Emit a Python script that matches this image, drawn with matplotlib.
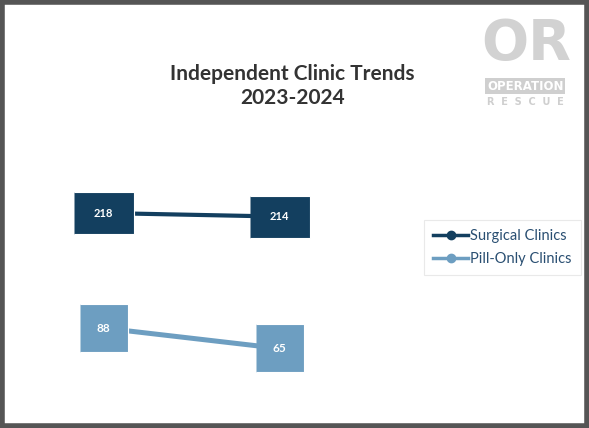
import matplotlib
matplotlib.use("Agg")
import matplotlib.pyplot as plt
from matplotlib.lines import Line2D
from matplotlib.patches import Rectangle

# data
years = ["2023", "2024"]
surgical = [218, 214]
pill_only = [88, 65]
series_names = ["Surgical Clinics", "Pill-Only Clinics"]

dark = "#133f5f"
light = "#6d9ec1"

fig = plt.figure(figsize=(5.89, 4.28), dpi=100)
fig.patch.set_facecolor("white")

ax = fig.add_axes([0, 0, 1, 1])
ax.set_xlim(-0.59, 2.76)
ax.set_ylim(-24.9, 458.7)
ax.axis("off")

x = list(range(len(years)))

# rectangle markers
rect_dark = [(-1, -0.71), (1, -0.71), (1, 0.71), (-1, 0.71)]
rect_light = [(-1, -1), (1, -1), (1, 1), (-1, 1)]

ax.plot(x, surgical, color=dark, lw=3.0, marker=rect_dark, ms=43,
        mfc=dark, mec="white", mew=0.8, zorder=2)
ax.plot(x, pill_only, color=light, lw=3.6, marker=rect_light, ms=35,
        mfc=light, mec="white", mew=0.8, zorder=2)

for xi, v in zip(x, surgical):
    ax.text(xi, v, str(v), color="white", fontsize=8, fontweight="bold",
            family="Lato", ha="center", va="center", zorder=3)
for xi, v in zip(x, pill_only):
    ax.text(xi, v, str(v), color="white", fontsize=8.5, fontweight="bold",
            family="Lato", ha="center", va="center", zorder=3)

# title
fig.text(0.497, 0.80, "Independent Clinic Trends\n2023-2024", ha="center",
         va="center", fontsize=15, fontweight="bold", family="Lato",
         color="#333333", linespacing=1.25)

# legend
handles = [Line2D([0], [0], color=dark, lw=2.5, marker="o", ms=6),
           Line2D([0], [0], color=light, lw=2.5, marker="o", ms=6)]
leg = fig.legend(handles, series_names, loc="center",
                 bbox_to_anchor=(0.853, 0.422), frameon=True,
                 prop={"family": "Lato", "size": 10.5}, handlelength=2.4,
                 handletextpad=0.15, labelspacing=0.65, borderpad=0.6,
                 borderaxespad=0, fancybox=False)
leg.get_frame().set_edgecolor("#e4e4e4")
leg.get_frame().set_linewidth(0.8)
for t in leg.get_texts():
    t.set_color("#2a4f72")

# logo
fig.text(0.894, 0.898, "OR", ha="center", va="center", fontsize=40,
         fontweight="bold", family="DejaVu Sans", color="#d2d2d2")
fig.text(0.892, 0.799, "OPERATION", ha="center", va="center", fontsize=8.5,
         fontweight="bold", family="DejaVu Sans", color="white",
         bbox=dict(boxstyle="square,pad=0.15", fc="#cfcfcf", ec="none"))
fig.text(0.892, 0.762, "R  E  S  C  U  E", ha="center", va="center",
         fontsize=7, fontweight="bold", family="DejaVu Sans", color="#cfcfcf")

# outer border
fig.patches.append(Rectangle((0.004, 0.004), 0.992, 0.992,
                             transform=fig.transFigure, fill=False,
                             ec="#555555", lw=4, zorder=10))

fig.savefig("out.png", dpi=100)
